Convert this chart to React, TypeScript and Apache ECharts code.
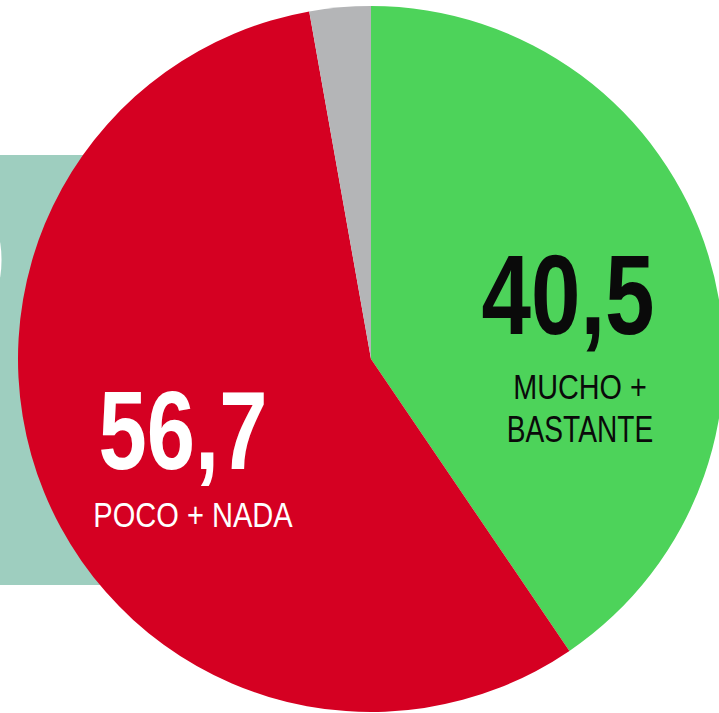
import React, { useEffect, useRef } from "react";
import * as echarts from "echarts";

const categories = ["MUCHO + BASTANTE", "POCO + NADA", "NS/NC"];
const values = [40.5, 56.7, 2.8];
const colors = ["#4dd35a", "#d50022", "#b4b5b7"];
const labelLines = [["MUCHO +", "BASTANTE"], ["POCO + NADA"]];

const fmt = (v: number) => v.toFixed(1).replace(".", ",");
const FONT = "'Liberation Sans', Arial, sans-serif";

export default function App() {
  const ref = useRef<HTMLDivElement>(null);
  useEffect(() => {
    document.body.style.margin = "0";
    const chart = echarts.init(ref.current!, undefined, { renderer: "svg" });
    const txt = (x: number, y: number, text: string, fill: string, size: number, bold: boolean, sx: number) => ({
      type: "text",
      z: 100,
      x,
      y,
      scaleX: sx,
      style: { text, fill, font: `${bold ? "bold " : ""}${size}px ${FONT}`, textAlign: "center", textVerticalAlign: "middle" },
    });
    chart.setOption({
      animation: false,
      backgroundColor: "#ffffff",
      graphic: [
        { type: "rect", z: 0, shape: { x: 0, y: 155, width: 200, height: 430 }, style: { fill: "#9ecebf" } },
        { type: "text", z: 1, x: 5, y: 260, scaleX: 0.78, style: { text: "0", fill: "#ffffff", font: `bold 110px ${FONT}`, textAlign: "right", textVerticalAlign: "middle" } },
        txt(568, 294, fmt(values[0]), "#0a0a0a", 114, true, 0.78),
        txt(580, 386, labelLines[0][0], "#0a0a0a", 36, false, 0.8),
        txt(580, 429, labelLines[0][1], "#0a0a0a", 37, false, 0.76),
        txt(183, 430, fmt(values[1]), "#ffffff", 112, true, 0.775),
        txt(193, 515, labelLines[1][0], "#ffffff", 35, false, 0.83),
      ],
      series: [
        {
          type: "pie",
          z: 10,
          center: [371, 359],
          radius: [0, 353],
          startAngle: 90,
          clockwise: true,
          label: { show: false },
          labelLine: { show: false },
          emphasis: { disabled: true },
          itemStyle: { borderWidth: 0 },
          data: categories.map((name, i) => ({ name, value: values[i], itemStyle: { color: colors[i] } })),
        },
      ],
    });
    return () => chart.dispose();
  }, []);
  return <div ref={ref} style={{ position: "absolute", left: 0, top: 0, width: 719, height: 713 }} />;
}
